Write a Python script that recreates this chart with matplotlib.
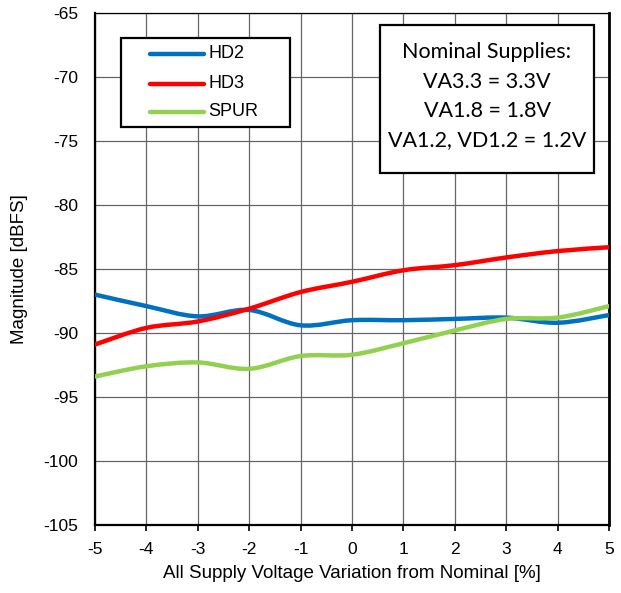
import matplotlib
matplotlib.use('Agg')
import matplotlib.pyplot as plt
from matplotlib.path import Path
from matplotlib.patches import PathPatch, Rectangle
import numpy as np

variation = [-5, -4, -3, -2, -1, 0, 1, 2, 3, 4, 5]
hd2 = [-87.0, -87.9, -88.7, -88.2, -89.4, -89.0, -89.0, -88.9, -88.8, -89.2, -88.6]
hd3 = [-90.9, -89.6, -89.1, -88.1, -86.8, -86.0, -85.1, -84.7, -84.1, -83.6, -83.3]
spur = [-93.4, -92.6, -92.3, -92.8, -91.8, -91.7, -90.8, -89.8, -88.9, -88.8, -87.9]
series_names = ['HD2', 'HD3', 'SPUR']
colors = ['#0070C0', '#FF0000', '#92D050']
note_lines = ['Nominal Supplies:', 'VA3.3 = 3.3V', 'VA1.8 = 1.8V', 'VA1.2, VD1.2 = 1.2V']

plt.rcParams['font.family'] = ['Liberation Sans', 'DejaVu Sans']
plt.rcParams['axes.unicode_minus'] = False


def smooth_path(x, y):
    # excel-style smoothed line: cubic bezier segments, catmull-rom control points
    pts = np.column_stack([np.asarray(x, float), np.asarray(y, float)])
    verts = [pts[0]]
    codes = [Path.MOVETO]
    n = len(pts)
    for i in range(n - 1):
        p0 = pts[i - 1] if i > 0 else pts[i]
        p1 = pts[i]
        p2 = pts[i + 1]
        p3 = pts[i + 2] if i + 2 < n else pts[i + 1]
        verts += [p1 + (p2 - p0) / 6.0, p2 - (p3 - p1) / 6.0, p2]
        codes += [Path.CURVE4] * 3
    return Path(verts, codes)


W, H = 621, 593
L, R, T, B = 95, 609, 13, 525
fig = plt.figure(figsize=(W / 100, H / 100), dpi=100)
ax = fig.add_axes([L / W, 1 - B / H, (R - L) / W, (B - T) / H])


def axf(px, py):
    # pixel position in the picture -> axes fraction (for the decorations)
    return (px - L) / (R - L), (B - py) / (B - T)


for vals, c in zip([hd2, hd3, spur], colors):
    ax.add_patch(PathPatch(smooth_path(variation, vals), fill=False, edgecolor=c,
                           lw=3.2, capstyle='round', joinstyle='round', zorder=3))

ax.set_xlim(-5, 5)
ax.set_ylim(-105, -65)
ax.set_xticks(np.arange(-5, 6, 1))
ax.set_yticks(np.arange(-105, -64, 5))
ax.grid(True, color='#666666', lw=0.9)
ax.set_axisbelow(True)
for s in ax.spines.values():
    s.set_color('black')
    s.set_linewidth(1.6)
ax.spines['top'].set_linewidth(0.9)
ax.spines['right'].set_linewidth(2.0)
ax.tick_params(axis='x', direction='out', length=4, width=1.2, labelsize=12.5, pad=8)
ax.tick_params(axis='y', length=0, labelsize=12.5, pad=12)
ax.set_xlabel('All Supply Voltage Variation from Nominal [%]', fontsize=13.5, labelpad=6)
ax.set_ylabel('Magnitude [dBFS]', fontsize=13.5, labelpad=11)

# legend box, drawn by hand to get Excel's wide padding
x0, y0 = axf(121, 127)
x1, y1 = axf(290, 38)
ax.add_patch(Rectangle((x0, y0), x1 - x0, y1 - y0, transform=ax.transAxes,
                       fc='white', ec='black', lw=1.6, zorder=4))
hx0, _ = axf(150, 0)
hx1, _ = axf(204, 0)
tx, _ = axf(208, 0)
for name, c, py in zip(series_names, colors, [53.5, 83.5, 111.5]):
    _, yy = axf(0, py)
    ax.plot([hx0, hx1], [yy, yy], transform=ax.transAxes, color=c, lw=3.2,
            solid_capstyle='round', zorder=5)
    ax.text(tx, yy, name, transform=ax.transAxes, ha='left', va='center',
            fontsize=13, zorder=5)

# nominal supplies note
x0, y0 = axf(380, 173)
x1, y1 = axf(594, 25)
ax.add_patch(Rectangle((x0, y0), x1 - x0, y1 - y0, transform=ax.transAxes,
                       fc='white', ec='black', lw=1.6, zorder=4))
cx, _ = axf(487, 0)
for line, py in zip(note_lines, [50, 79.5, 109, 138.5]):
    _, yy = axf(0, py)
    ax.text(cx, yy, line, transform=ax.transAxes, ha='center', va='center_baseline',
            fontsize=15.5, family=['Lato', 'DejaVu Sans'], zorder=5)

fig.savefig('out.png', dpi=100)
